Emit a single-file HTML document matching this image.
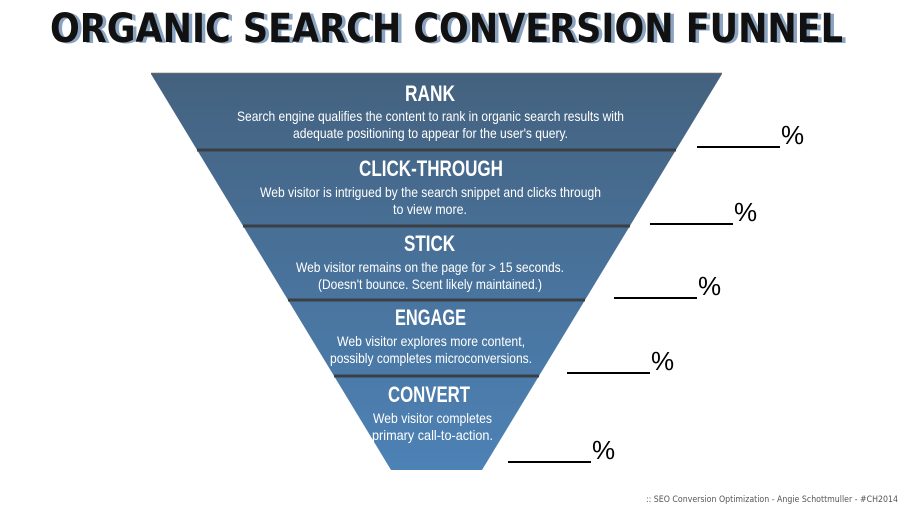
<!DOCTYPE html>
<html><head><meta charset="utf-8"><style>
html,body{margin:0;padding:0;background:#fff;width:904px;height:507px;overflow:hidden}
svg{display:block}
.t{font-family:"Liberation Sans",sans-serif;font-weight:bold;fill:#fff;font-size:22px}
.b{font-family:"Liberation Sans",sans-serif;fill:#fff;font-size:14px}
.p{font-family:"Liberation Sans",sans-serif;fill:#000;font-size:26px}
</style></head><body>
<svg width="904" height="507" viewBox="0 0 904 507">
<defs>
<linearGradient id="g" x1="0" y1="0" x2="0" y2="1">
<stop offset="0" stop-color="#44627f"/>
<stop offset="1" stop-color="#4d82b6"/>
</linearGradient>
</defs>
<text x="52" y="42" font-family="DejaVu Sans,Liberation Sans,sans-serif" font-weight="bold" font-size="40" fill="#8aa3c0" textLength="793" lengthAdjust="spacingAndGlyphs" transform="translate(1.5,1)">ORGANIC SEARCH CONVERSION FUNNEL</text>
<text x="50" y="42" font-family="DejaVu Sans,Liberation Sans,sans-serif" font-weight="bold" font-size="40" fill="#111" textLength="793" lengthAdjust="spacingAndGlyphs">ORGANIC SEARCH CONVERSION FUNNEL</text>
<line x1="151" y1="73.5" x2="722" y2="73.5" stroke="#666" stroke-width="1.5"/>
<polygon points="151,74 722,74 482,470 391,470" fill="url(#g)"/>
<g stroke="#3a3f45" stroke-width="3">
<line x1="197" y1="150" x2="676" y2="150"/>
<line x1="243" y1="226" x2="630" y2="226"/>
<line x1="288" y1="300" x2="585" y2="300"/>
<line x1="334" y1="376" x2="539" y2="376"/>
</g>
<text class="t" x="405" y="101" textLength="50" lengthAdjust="spacingAndGlyphs">RANK</text>
<text class="b" x="237" y="121" textLength="387" lengthAdjust="spacingAndGlyphs">Search engine qualifies the content to rank in organic search results with</text>
<text class="b" x="293" y="138" textLength="275" lengthAdjust="spacingAndGlyphs">adequate positioning to appear for the user's query.</text>
<text class="t" x="359" y="176" textLength="144" lengthAdjust="spacingAndGlyphs">CLICK-THROUGH</text>
<text class="b" x="260" y="197" textLength="341" lengthAdjust="spacingAndGlyphs">Web visitor is intrigued by the search snippet and clicks through</text>
<text class="b" x="393" y="214" textLength="74" lengthAdjust="spacingAndGlyphs">to view more.</text>
<text class="t" x="404" y="251" textLength="51" lengthAdjust="spacingAndGlyphs">STICK</text>
<text class="b" x="296" y="272" textLength="268" lengthAdjust="spacingAndGlyphs">Web visitor remains on the page for &gt; 15 seconds.</text>
<text class="b" x="318" y="289" textLength="224" lengthAdjust="spacingAndGlyphs">(Doesn't bounce. Scent likely maintained.)</text>
<text class="t" x="395" y="325" textLength="71" lengthAdjust="spacingAndGlyphs">ENGAGE</text>
<text class="b" x="337" y="346" textLength="188" lengthAdjust="spacingAndGlyphs">Web visitor explores more content,</text>
<text class="b" x="330" y="363" textLength="202" lengthAdjust="spacingAndGlyphs">possibly completes microconversions.</text>
<text class="t" x="388" y="402" textLength="82" lengthAdjust="spacingAndGlyphs">CONVERT</text>
<text class="b" x="373" y="423" textLength="119" lengthAdjust="spacingAndGlyphs">Web visitor completes</text>
<text class="b" x="372" y="440" textLength="121" lengthAdjust="spacingAndGlyphs">primary call-to-action.</text>
<g stroke="#000" stroke-width="2">
<line x1="697" y1="147" x2="780" y2="147"/>
<line x1="650" y1="224" x2="733" y2="224"/>
<line x1="614" y1="298" x2="697" y2="298"/>
<line x1="567" y1="373" x2="650" y2="373"/>
<line x1="508" y1="462" x2="591" y2="462"/>
</g>
<text class="p" x="781" y="144">%</text>
<text class="p" x="734" y="221">%</text>
<text class="p" x="698" y="295">%</text>
<text class="p" x="651" y="370">%</text>
<text class="p" x="592" y="459">%</text>
<text x="646" y="502" font-family="DejaVu Sans,sans-serif" font-size="8.5" fill="#555" textLength="252" lengthAdjust="spacingAndGlyphs">:: SEO Conversion Optimization - Angie Schottmuller - #CH2014</text>
</svg>
</body></html>
